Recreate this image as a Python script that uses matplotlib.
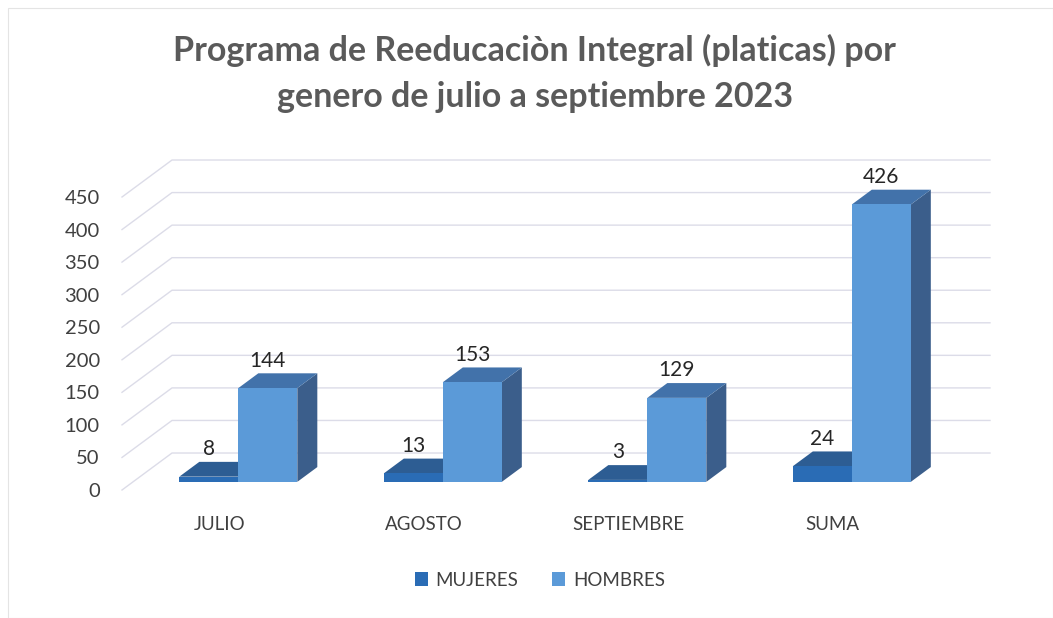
"""Programa de Reeducacion Integral: pseudo-3D clustered columns by gender."""

import matplotlib

matplotlib.use("Agg")
import matplotlib.pyplot as plt
from matplotlib.patches import Patch, Polygon, Rectangle
from matplotlib.transforms import ScaledTranslation

plt.rcParams["font.family"] = ["Lato", "DejaVu Sans"]

CATEGORIES = ["JULIO", "AGOSTO", "SEPTIEMBRE", "SUMA"]
MUJERES = [8, 13, 3, 24]
HOMBRES = [144, 153, 129, 426]
Y_TICKS = list(range(0, 451, 50))
SERIES = ["MUJERES", "HOMBRES"]

TITLE_LINES = ["Programa de Reeducaciòn Integral (platicas) por",
               "genero de julio a septiembre 2023"]

# face colours: front, top, side
COLORS = {
    "MUJERES": ("#2a6cb5", "#2d5d93", "#264f7e"),
    "HOMBRES": ("#5b9ad8", "#4272aa", "#3b5e8b"),
}
GRID = "#dcdce8"
TEXT = "#404040"

# depth of the back wall in data units (x: categories, y: values)
WALL_DX = 0.2445
WALL_DY = 56.8
BAR_W = 0.2885
BAR_SHIFT = 0.015
FRONT_F = 0.22  # bar front face depth, fraction of wall depth
DEPTH_F = 0.40  # bar depth, fraction of wall depth


def draw_bar(ax, x0, value, colors):
    front, top, side = colors
    ox, oy = FRONT_F * WALL_DX + BAR_SHIFT, FRONT_F * WALL_DY
    dx, dy = DEPTH_F * WALL_DX, DEPTH_F * WALL_DY
    xl, xr = x0 + ox, x0 + BAR_W + ox
    y0, y1 = oy, value + oy
    ax.add_patch(Polygon([(xr, y0), (xr + dx, y0 + dy), (xr + dx, y1 + dy), (xr, y1)],
                         closed=True, facecolor=side, edgecolor="none", zorder=3))
    ax.add_patch(Polygon([(xl, y1), (xl + dx, y1 + dy), (xr + dx, y1 + dy), (xr, y1)],
                         closed=True, facecolor=top, edgecolor="none", zorder=3))
    ax.bar(xl, value, width=BAR_W, bottom=y0, align="edge", color=front,
           edgecolor="none", zorder=3)
    ax.annotate(str(value), ((xl + xr) / 2, y1 + dy), xytext=(0, 2),
                textcoords="offset points", ha="center", va="bottom",
                fontsize=15, color="#262626", zorder=4)


def main():
    fig = plt.figure(figsize=(10.53, 6.18), dpi=100)
    W, H = 1053, 618
    px_x = 204.5  # pixels per category
    px_y = 293 / 450  # pixels per value unit
    xlim = (-0.5, 3.8)
    ylim = (-15, 515)
    left = 122
    bottom = 128 + ylim[0] * px_y
    ax = fig.add_axes([left / W, bottom / H,
                       (xlim[1] - xlim[0]) * px_x / W,
                       (ylim[1] - ylim[0]) * px_y / H])
    ax.set_xlim(*xlim)
    ax.set_ylim(*ylim)
    for s in ax.spines.values():
        s.set_visible(False)

    # back wall gridlines with diagonal on the side wall
    x_front = -0.5
    x_back_end = len(CATEGORIES) - 0.5 + WALL_DX
    for v in Y_TICKS:
        ax.plot([x_front, x_front + WALL_DX, x_back_end],
                [v, v + WALL_DY, v + WALL_DY],
                color=GRID, linewidth=1.0, zorder=1, clip_on=False)

    for i in range(len(CATEGORIES)):
        draw_bar(ax, i - BAR_W, MUJERES[i], COLORS["MUJERES"])
        draw_bar(ax, i, HOMBRES[i], COLORS["HOMBRES"])

    ax.set_yticks(Y_TICKS)
    ax.set_yticklabels([str(v) for v in Y_TICKS])
    ax.set_xticks(range(len(CATEGORIES)))
    ax.set_xticklabels(CATEGORIES)
    ax.tick_params(axis="y", length=0, pad=16, labelsize=14.5, labelcolor=TEXT)
    ax.tick_params(axis="x", length=0, pad=12, labelsize=13.5, labelcolor=TEXT)
    nudge = ScaledTranslation(-0.05, 0, fig.dpi_scale_trans)
    for lab in ax.get_xticklabels():
        lab.set_transform(lab.get_transform() + nudge)

    for line, y in zip(TITLE_LINES, [50, 97]):
        fig.text(0.508, 1 - y / H, line, ha="center", va="center",
                 fontsize=24.5, fontweight="bold", color="#5a5a5a")

    handles = [Patch(facecolor=COLORS[s][0], edgecolor="none") for s in SERIES]
    fig.legend(handles, SERIES, loc="center", bbox_to_anchor=(540 / W, 1 - 580 / H),
               ncol=2, frameon=False, fontsize=13.5, handlelength=0.7,
               handleheight=0.7, handletextpad=0.4, columnspacing=1.8,
               labelcolor=TEXT)

    fig.patches.append(Rectangle((8 / W, 0), 1 - 8 / W, 1 - 8 / H, transform=fig.transFigure,
                                 fill=False, edgecolor="#e4e4e4", linewidth=0.8))

    fig.savefig("out.png", dpi=100)


if __name__ == "__main__":
    main()
